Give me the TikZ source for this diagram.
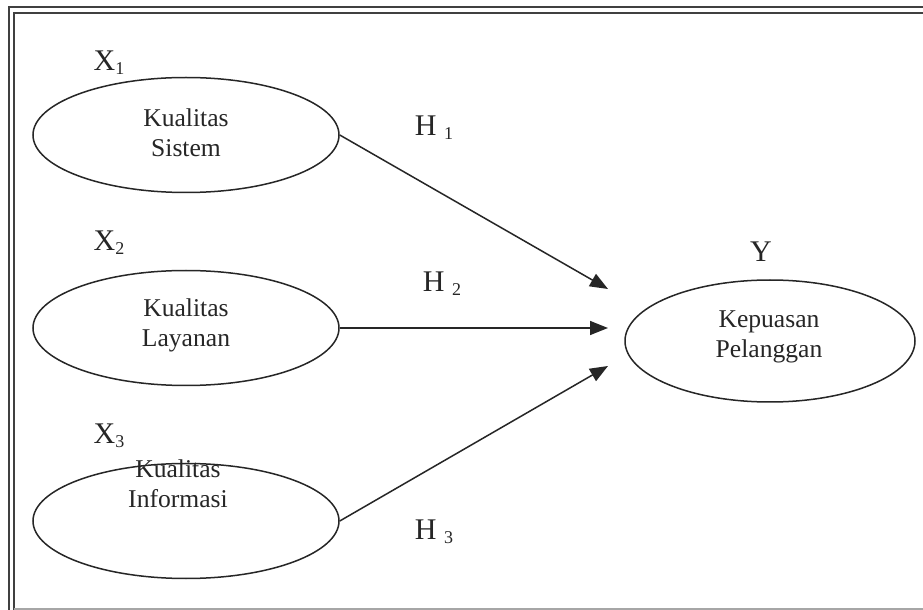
\documentclass[tikz,border=0pt]{standalone}
\usepackage{fontspec}
\setmainfont{Liberation Serif}
\usetikzlibrary{shapes.geometric,arrows.meta}
\tikzset{
  var/.style={draw=black!85, line width=0.75pt, ellipse, inner sep=0pt, minimum width=153pt, minimum height=57.5pt},
  txt/.style={font=\fontsize{12.8}{15}\selectfont, align=center, inner sep=0pt, text=black!85},
  lab/.style={font=\fontsize{15}{18}\selectfont, inner sep=0pt, text=black!85},
  link/.style={draw=black!85, line width=0.75pt, -{Triangle[length=9pt,width=7pt]}},
  frame/.style={draw=black!75, line width=1pt}
}
\newcommand{\sbs}[1]{\raisebox{-0.3ex}{\fontsize{9}{9}\selectfont #1}}
\begin{document}
\begin{tikzpicture}[x=0.5pt,y=-0.5pt]
\useasboundingbox (0,0) rectangle (923,610);
\clip (0,0) rectangle (923,610);
\fill[white] (0,0) rectangle (923,610);
% frame
\draw[frame] (940,7) -- (9,7) -- (9,620);
\draw[frame] (940,13.5) -- (13.5,13.5) -- (13.5,620);
\draw[black!35, line width=1pt] (13.5,608.5) -- (923,608.5);
% ellipses
\node[var] (e1) at (186,135) {};
\node[var] (e2) at (186,328) {};
\node[var] (e3) at (186,521) {};
\node[var, minimum width=145pt, minimum height=61pt] (ey) at (770,341) {};
% texts
\node[txt] (t1) at (186,133) {Kualitas\\Sistem};
\node[txt] (t2) at (186,325) {Kualitas\\Layanan};
\node[txt] (t3) at (178,484) {Kualitas\\Informasi};
\node[txt] (ty) at (769,337) {Kepuasan\\Pelanggan};
% labels
\node[lab] (x1) at (109,63) {X\sbs{1}};
\node[lab] (x2) at (109,243) {X\sbs{2}};
\node[lab] (x3) at (109,436) {X\sbs{3}};
\node[lab] (yl) at (761,252) {Y};
\node[lab] (h1) at (434,128) {H \sbs{1}};
\node[lab] (h2) at (442,284) {H \sbs{2}};
\node[lab] (h3) at (434,532) {H \sbs{3}};
% arrow tips
\coordinate (p1) at (608,289);
\coordinate (p2) at (608,328);
\coordinate (p3) at (608,366);
\draw[link] (e1.east) -- (p1);
\draw[link] (e2.east) -- (p2);
\draw[link] (e3.east) -- (p3);
\end{tikzpicture}
\end{document}
